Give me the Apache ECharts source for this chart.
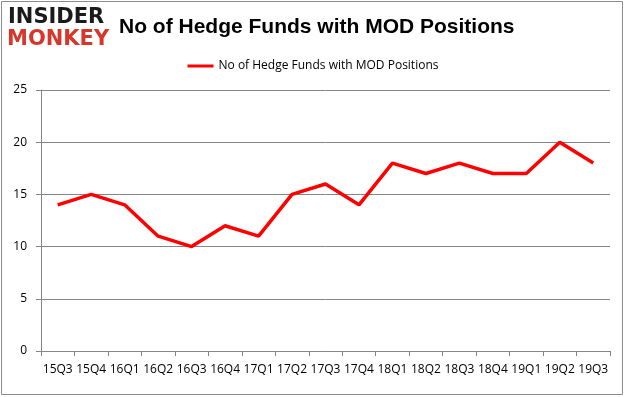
<!DOCTYPE html>
<html>
<head>
<meta charset="utf-8">
<script src="https://cdn.jsdelivr.net/npm/echarts@6/dist/echarts.min.js"></script>
<style>
  html, body { margin: 0; padding: 0; background: #fff; }
  #chart { width: 626px; height: 397px; }
</style>
</head>
<body>
<div id="chart"></div>
<script>
const quarters = ['15Q3', '15Q4', '16Q1', '16Q2', '16Q3', '16Q4', '17Q1', '17Q2', '17Q3',
  '17Q4', '18Q1', '18Q2', '18Q3', '18Q4', '19Q1', '19Q2', '19Q3']
const hedgeFunds = [14, 15, 14, 11, 10, 12, 11, 15, 16, 14, 18, 17, 18, 17, 17, 20, 18]
const seriesName = 'No of Hedge Funds with MOD Positions'

const chart = echarts.init(document.getElementById('chart'))

chart.setOption({
  animation: false,
  textStyle: { fontFamily: 'Open Sans, sans-serif' },
  graphic: [
    // frame around the picture
    {
      type: 'rect',
      shape: { x: 1.5, y: 1.5, width: 621, height: 393 },
      style: { fill: 'none', stroke: '#8c8c8c', lineWidth: 1 },
    },
    // logo
    {
      type: 'text', left: 8, top: 7,
      style: { text: 'INSIDER', fill: '#1a1a1a', font: 'bold 21px "DejaVu Sans", sans-serif' },
    },
    {
      type: 'text', left: 7, top: 29,
      style: { text: 'MONKEY', fill: '#d7372b', font: 'bold 21px "DejaVu Sans", sans-serif' },
    },
  ],
  title: {
    text: seriesName,
    left: 114,
    top: 12,
    textStyle: { fontSize: 21, fontWeight: 'bold', color: '#000', fontFamily: 'Liberation Sans, sans-serif' },
  },
  legend: {
    top: 55,
    left: 'center',
    itemWidth: 26,
    itemHeight: 3,
    icon: 'rect',
    textStyle: { fontSize: 12, color: '#000' },
    data: [seriesName],
  },
  grid: { left: 41, right: 16, top: 90, bottom: 46 },
  xAxis: {
    type: 'category',
    data: quarters,
    boundaryGap: true,
    axisLine: { lineStyle: { color: '#868686' } },
    axisTick: { show: true, alignWithLabel: false, length: 5, lineStyle: { color: '#868686' } },
    axisLabel: { color: '#000', fontSize: 12, margin: 13, interval: 0 },
  },
  yAxis: {
    type: 'value',
    min: 0,
    max: 25,
    interval: 5,
    axisLine: { show: true, lineStyle: { color: '#868686' } },
    axisTick: { show: true, length: 5, lineStyle: { color: '#868686' } },
    axisLabel: { color: '#000', fontSize: 12, margin: 14 },
    splitLine: { lineStyle: { color: '#868686' } },
  },
  series: [
    {
      name: seriesName,
      type: 'line',
      data: hedgeFunds,
      showSymbol: false,
      symbol: 'none',
      lineStyle: { color: '#ff0000', width: 3.5 },
      itemStyle: { color: '#ff0000' },
    },
  ],
})
</script>
</body>
</html>
